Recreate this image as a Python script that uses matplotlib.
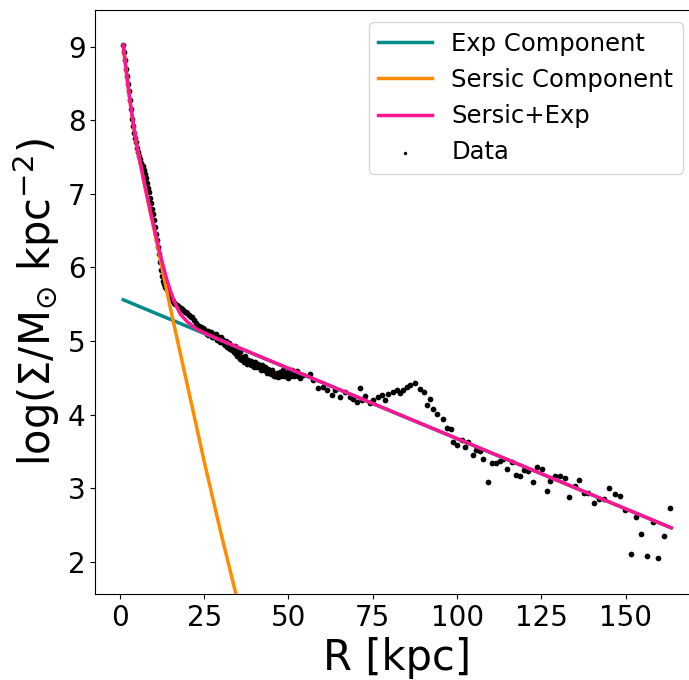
import numpy as np
import matplotlib
matplotlib.use("Agg")
import matplotlib.pyplot as plt

# ---- model components ----
exp_R = [1.0, 163.5]
exp_logS = [5.56, 2.46]

sersic_R = [1, 2, 3, 4, 5, 6, 7, 8, 9, 10, 11, 12, 13, 14, 15, 17, 20, 22.5, 25, 30, 35]
sersic_logS = [9.02, 8.62, 8.26, 7.94, 7.66, 7.42, 7.19, 6.97, 6.75, 6.54, 6.32, 6.10,
               5.88, 5.66, 5.44, 5.02, 4.40, 3.88, 3.36, 2.38, 1.45]

total_R = [1, 2, 3, 4, 5, 6, 7, 8, 9, 10, 11, 12, 13, 14, 15, 16, 17, 18, 20, 22.5, 25, 30, 163.5]
total_logS = [9.02, 8.62, 8.26, 7.94, 7.66, 7.43, 7.20, 6.98, 6.77, 6.57, 6.37, 6.17,
              5.99, 5.82, 5.68, 5.55, 5.45, 5.36, 5.26, 5.17, 5.11, 5.01, 2.46]

# ---- data points ----
data_R = [
    1.0, 1.3, 1.6, 1.9, 2.2, 2.5, 2.8, 3.1, 3.4, 3.7, 4.0, 4.3, 4.6, 4.9, 5.2, 5.5, 5.8,
    6.1, 6.4, 6.7, 7.0, 7.3, 7.6, 7.9, 8.2, 8.5, 8.8, 9.1, 9.4, 9.7, 10.0, 10.3, 10.6,
    10.9, 11.2, 11.5, 11.8, 12.1, 12.4, 12.7, 13.0, 13.3, 13.6, 13.9, 14.2, 14.5, 14.8,
    15.1, 15.4, 15.7, 16.0, 16.4, 16.8, 17.2, 17.6, 18.0, 18.4, 18.8, 19.2, 19.6, 20.0,
    20.5, 21.0, 21.5, 22.0, 22.5, 23.0, 23.5, 24.0, 24.5, 25.0,
    25.5, 26.0, 26.5, 27.0, 27.5, 28.0, 28.5, 29.0, 29.5, 30.0, 30.5, 31.0, 31.5, 32.0,
    32.5, 33.0, 33.5, 34.0, 34.5, 35.0, 35.5, 36.0, 36.5, 37.0, 37.5, 38.0, 38.5, 39.0,
    39.5, 40.0, 40.5, 41.0, 41.5, 42.0, 42.5, 43.0, 43.5, 44.0, 44.5, 45.0, 45.5, 46.0,
    46.5, 47.0, 47.5, 48.0, 48.5, 49.0, 49.5, 50.0, 50.5, 51.0, 51.5, 52.0, 52.5, 53.0,
    53.5,
    25.25, 25.75, 26.25, 26.75, 27.25, 27.75, 28.25, 28.75, 29.25, 29.75, 30.25, 30.75,
    31.25, 31.75, 32.25, 32.75, 33.25, 33.75, 34.25, 34.75, 35.25, 35.75, 36.25, 36.75,
    37.25, 37.75, 38.25, 38.75, 39.25, 39.75, 40.25, 40.75, 41.25, 41.75, 42.25, 42.75,
    43.25, 43.75, 44.25, 44.75, 45.25, 45.75, 46.25, 46.75, 47.25, 47.75, 48.25, 48.75,
    49.25, 49.75, 50.25, 50.75, 51.25, 51.75, 52.25, 52.75, 53.25,
    54.4, 56.4, 57.4, 58.8, 60.3, 61.3, 62.8, 63.8, 65.3, 66.8, 68.2, 69.2, 70.2, 71.2,
    71.7, 72.7, 74.2, 75.2, 76.6, 77.6, 78.6, 79.6, 81.1, 82.1, 83.1, 84.1, 85.0, 86.0,
    87.5, 89.0, 90.2, 92.0, 91.0, 93.0, 93.9, 95.9, 96.9,
    98.2, 98.9, 100.1, 101.4, 102.3, 103.3, 104.6, 105.6, 106.8, 107.8, 109.1, 110.3,
    111.5, 112.7, 113.7, 114.9, 116.2, 117.5, 118.7, 119.8, 121.1, 122.4, 123.8, 125.1,
    126.6, 127.7, 129.0, 130.5, 132.0, 133.3, 135.0, 136.3, 137.6, 138.9, 140.6, 142.2,
    143.6, 145.2, 146.8, 148.3, 149.8, 151.5, 153.1, 154.6, 156.4, 158.0, 159.7, 161.4,
    163.2,
]
data_logS = [
    9.02, 8.93, 8.82, 8.70, 8.60, 8.50, 8.40, 8.28, 8.15, 8.02, 7.92, 7.83, 7.76, 7.70,
    7.63, 7.57, 7.52, 7.47, 7.42, 7.38, 7.33, 7.27, 7.22, 7.15, 7.08, 7.02, 6.95, 6.88,
    6.80, 6.72, 6.64, 6.55, 6.46, 6.37, 6.28, 6.18, 6.07, 5.97, 5.88, 5.82, 5.78, 5.74,
    5.72, 5.70, 5.68, 5.64, 5.60, 5.58, 5.56, 5.55, 5.52, 5.50, 5.49, 5.47, 5.46, 5.45,
    5.43, 5.42, 5.40, 5.39, 5.38, 5.36, 5.33, 5.32, 5.29, 5.25, 5.22, 5.21, 5.19, 5.17,
    5.16,
    5.13, 5.14, 5.11, 5.12, 5.09, 5.08, 5.10, 5.05, 5.04, 5.06, 5.01, 4.98, 5.00, 4.95,
    4.97, 4.92, 4.90, 4.93, 4.86, 4.82, 4.85, 4.78, 4.75, 4.79, 4.72, 4.74, 4.70, 4.73,
    4.68, 4.71, 4.66, 4.69, 4.65, 4.67, 4.62, 4.64, 4.59, 4.62, 4.57, 4.60, 4.55, 4.52,
    4.56, 4.53, 4.58, 4.55, 4.60, 4.56, 4.52, 4.58, 4.55, 4.61, 4.57, 4.54, 4.59, 4.55,
    4.50,
    5.12, 5.10, 5.08, 5.09, 5.06, 5.05, 5.06, 5.02, 5.03, 4.99, 4.98, 4.96, 4.95, 4.92,
    4.91, 4.89, 4.88, 4.85, 4.83, 4.80, 4.79, 4.76, 4.74, 4.71, 4.73, 4.69, 4.71, 4.67,
    4.70, 4.65, 4.68, 4.64, 4.66, 4.61, 4.64, 4.60, 4.62, 4.57, 4.59, 4.55, 4.58, 4.53,
    4.55, 4.51, 4.55, 4.52, 4.57, 4.53, 4.55, 4.50, 4.56, 4.53, 4.58, 4.52, 4.56, 4.53,
    4.52,
    4.539, 4.553, 4.471, 4.358, 4.372, 4.336, 4.268, 4.336, 4.236, 4.313, 4.245, 4.209,
    4.177, 4.367, 4.200, 4.254, 4.154, 4.200, 4.236, 4.268, 4.200, 4.281, 4.313, 4.336,
    4.290, 4.336, 4.372, 4.404, 4.435, 4.345, 4.313, 4.209, 4.132, 4.073, 4.010, 3.937,
    3.815,
    3.801, 3.620, 3.588, 3.656, 3.556, 3.633, 3.447, 3.520, 3.511, 3.393, 3.081, 3.339,
    3.339, 3.370, 3.393, 3.257, 3.361, 3.180, 3.171, 3.248, 3.239, 3.081, 3.284, 3.257,
    2.954, 3.090, 3.167, 3.167, 3.135, 2.877, 3.031, 3.112, 2.931, 2.931, 2.804, 2.850,
    2.850, 2.999, 2.922, 2.895, 2.705, 2.098, 2.605, 2.379, 2.071, 2.533, 2.048, 2.342,
    2.732,
]

W, H = 689, 680
fig = plt.figure(figsize=(W / 100, H / 100), dpi=100)
left_px, right_px, bottom_px, top_px = 95.3, 698.5, 594, 10
ax = fig.add_axes([left_px / W, 1 - bottom_px / H,
                   (right_px - left_px) / W, (bottom_px - top_px) / H])

ax.scatter(data_R, data_logS, s=17, c='black', linewidths=0, zorder=1, label='Data')
ax.plot(exp_R, exp_logS, color='#008b8b', lw=2.5, zorder=2, label='Exp Component')
ax.plot(sersic_R, sersic_logS, color='darkorange', lw=2.5, zorder=3, label='Sersic Component')
ax.plot(total_R, total_logS, color='deeppink', lw=2.5, zorder=4, label='Sersic+Exp')

ax.set_xlim(-7.3, 171.6)
ax.set_ylim(1.56, 9.5)
ax.set_xticks([0, 25, 50, 75, 100, 125, 150])
ax.set_yticks([2, 3, 4, 5, 6, 7, 8, 9])
ax.tick_params(labelsize=20)
ax.set_xlabel('R [kpc]', fontsize=30)
ax.set_ylabel(r'log($\Sigma$/M$_{\odot}$ kpc$^{-2}$)', fontsize=30)

handles, labels = ax.get_legend_handles_labels()
order = [labels.index(n) for n in ['Exp Component', 'Sersic Component', 'Sersic+Exp', 'Data']]
ax.legend([handles[i] for i in order], [labels[i] for i in order],
          loc='upper right', fontsize=17.5, handlelength=2.2, borderaxespad=0,
          markerscale=0.6,
          bbox_to_anchor=((683 - left_px) / (right_px - left_px),
                          (bottom_px - 22) / (bottom_px - top_px)))

fig.savefig('out.png', dpi=100)
